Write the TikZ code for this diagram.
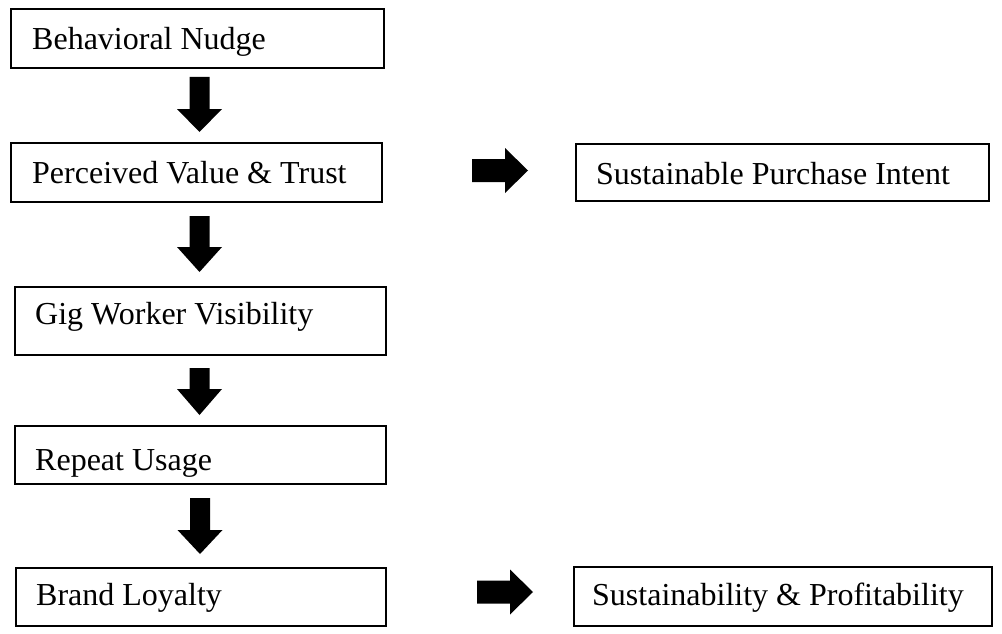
\documentclass[tikz,border=0pt]{standalone}
\usepackage{fontspec}
\setmainfont[Ligatures=NoCommon]{Liberation Serif}
\tikzset{
  stagebox/.style={draw=black, line width=2pt, fill=white},
  stagetext/.style={font=\fontsize{32}{38}\selectfont, inner sep=0pt, anchor=base west},
  blockfill/.style={fill=black}
}
% downward block arrow: x centre, shaft top, head start, tip
\newcommand\blockdown[4]{%
  \fill[blockfill] (#1-10,#2) -- (#1+10,#2) -- (#1+10,#3) -- (#1+22.5,#3)
    -- (#1,#4) -- (#1-22.5,#3) -- (#1-10,#3) -- cycle;}
% rightward block arrow: shaft left, head start, tip, y centre
\newcommand\blockright[4]{%
  \fill[blockfill] (#1,#4-11.5) -- (#2,#4-11.5) -- (#2,#4-22.5) -- (#3,#4)
    -- (#2,#4+22.5) -- (#2,#4+11.5) -- (#1,#4+11.5) -- cycle;}
\begin{document}
\begin{tikzpicture}[x=1pt, y=-1pt]
  \useasboundingbox (0,0) rectangle (1002,634);

  % left column of stages
  \draw[stagebox] (11,9) rectangle (384,68);
  \node[stagetext] (nudge) at (32,50) {Behavioral Nudge};

  \draw[stagebox] (11,143) rectangle (382,202);
  \node[stagetext] (trust) at (32,183) {Perceived Value \& Trust};

  \draw[stagebox] (15,287) rectangle (386,355);
  \node[stagetext] (gig) at (35,324) {Gig Worker Visibility};

  \draw[stagebox] (15,426) rectangle (386,484);
  \node[stagetext] (repeat) at (35,470) {Repeat Usage};

  \draw[stagebox] (16,568) rectangle (386,626);
  \node[stagetext] (loyal) at (36,605) {Brand Loyalty};

  % right column of outcomes
  \draw[stagebox] (576,144) rectangle (989,201);
  \node[stagetext] (intent) at (596,184) {Sustainable Purchase Intent};

  \draw[stagebox] (574,567) rectangle (992,626);
  \node[stagetext] (profit) at (592,605) {Sustainability \& Profitability};

  % block arrows between stages
  \blockdown{199.5}{77}{109}{132}
  \blockdown{199.5}{216}{247}{272}
  \blockdown{199.5}{368}{389}{415}
  \blockdown{200}{498}{530}{554}
  \blockright{472}{505}{528}{170.5}
  \blockright{477}{510}{533}{592}
\end{tikzpicture}
\end{document}
